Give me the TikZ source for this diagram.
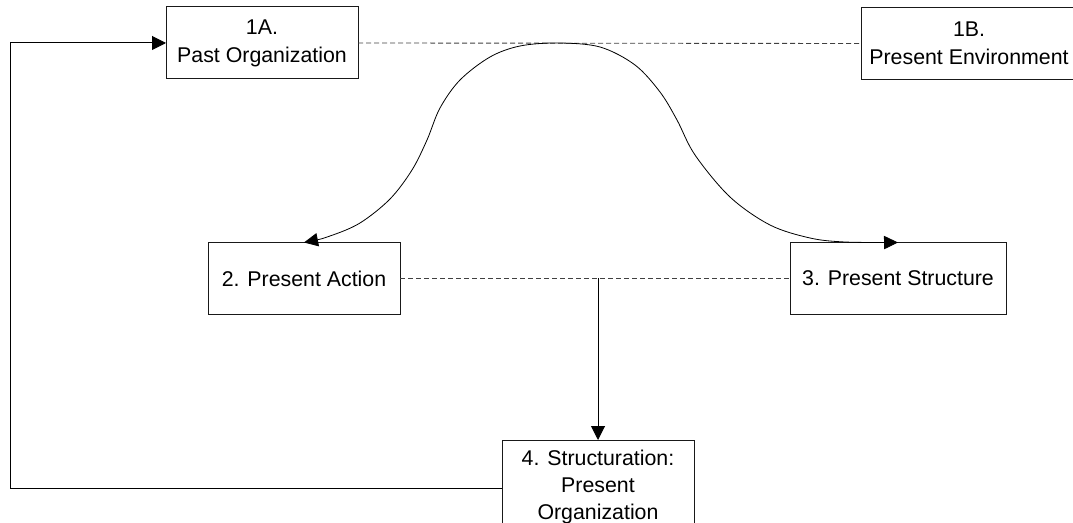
\documentclass[tikz,border=0pt]{standalone}
\usepackage{fontspec}
\setmainfont{Liberation Sans}
\usetikzlibrary{arrows.meta}
\begin{document}
\begin{tikzpicture}[x=0.75pt,y=-0.75pt,
  box/.style={draw=black!90, line width=0.75pt, fill=white, inner sep=0pt, outer sep=0pt,
    minimum width=144pt, minimum height=54pt, align=center,
    font=\fontsize{16}{21}\selectfont},
  wide/.style={minimum width=162pt},
  link/.style={draw=black!75, line width=0.65pt, dash pattern=on 3.8pt off 2.2pt},
  flow/.style={draw=black, line width=0.75pt, -{Triangle[length=10.5pt,width=10.5pt]}},
  arcline/.style={draw=black, line width=0.6pt, {Triangle[length=10.5pt,width=10pt]}-{Triangle[length=10.5pt,width=10pt]}}]
\useasboundingbox (0,0) rectangle (1073,523);
\clip (0,0) rectangle (1073,523);

% boxes
\node[box] (pastorg) at (262,43) {1A.\\Past Organization};
\node[box,wide] (presenv) at (969,43.5) {1B.\\Present Environment};
\node[box] (action) at (304,278.5) {2. Present Action};
\node[box,wide] (structure) at (898,278.5) {3. Present Structure};
\node[box,minimum height=70.5pt,font=\fontsize{16}{20.5}\selectfont] (structuration) at (598,487)
  {4. Structuration:\\Present\\Organization};

% dashed links
\draw[link] (pastorg.east) -- (presenv.west);
\draw[link] (action.east) -- (structure.west);

% from the action/structure link down to structuration
\coordinate (junction) at (action.east -| structuration.north);
\draw[flow] (junction) -- (structuration.north);

% feedback loop to the past organization
\coordinate (loopbottom) at (10,488);
\draw[flow] (structuration.west |- loopbottom) -- (loopbottom) |- (pastorg.west);

% the arc from action over the top to structure
\draw[arcline] plot[smooth, tension=0.55] coordinates {
  (action.north) (330,236) (360,223) (390,199) (412,170) (427,140) (440,108)
  (460,80) (490,57) (520,46) (558,43) (600,47) (635,65) (660,92) (677,120)
  (695,155) (730,197) (770,225) (810,238) (845,242) (structure.north)};
\end{tikzpicture}
\end{document}
